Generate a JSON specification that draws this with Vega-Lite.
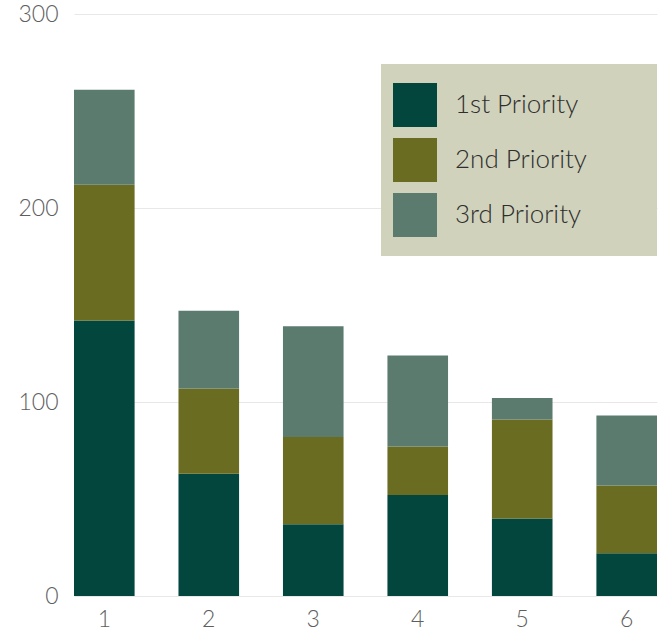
{
  "$schema": "https://vega.github.io/schema/vega-lite/v6.json",
  "width": 583,
  "height": 582,
  "autosize": {"type": "none"},
  "padding": {"left": 74, "top": 14, "right": 5, "bottom": 40},
  "background": "white",
  "config": {
    "font": "Lato",
    "view": {"stroke": null}
  },
  "data": {
    "values": [
      {"group": "1", "priority": "1st Priority", "value": 142},
      {"group": "1", "priority": "2nd Priority", "value": 70},
      {"group": "1", "priority": "3rd Priority", "value": 49},
      {"group": "2", "priority": "1st Priority", "value": 63},
      {"group": "2", "priority": "2nd Priority", "value": 44},
      {"group": "2", "priority": "3rd Priority", "value": 40},
      {"group": "3", "priority": "1st Priority", "value": 37},
      {"group": "3", "priority": "2nd Priority", "value": 45},
      {"group": "3", "priority": "3rd Priority", "value": 57},
      {"group": "4", "priority": "1st Priority", "value": 52},
      {"group": "4", "priority": "2nd Priority", "value": 25},
      {"group": "4", "priority": "3rd Priority", "value": 47},
      {"group": "5", "priority": "1st Priority", "value": 40},
      {"group": "5", "priority": "2nd Priority", "value": 51},
      {"group": "5", "priority": "3rd Priority", "value": 11},
      {"group": "6", "priority": "1st Priority", "value": 22},
      {"group": "6", "priority": "2nd Priority", "value": 35},
      {"group": "6", "priority": "3rd Priority", "value": 36}
    ]
  },
  "mark": {"type": "bar"},
  "encoding": {
    "x": {
      "field": "group",
      "type": "ordinal",
      "scale": {"paddingInner": 0.42, "paddingOuter": 0},
      "axis": {
        "title": null,
        "labelAngle": 0,
        "labelFontSize": 23,
        "labelColor": "#5e5e5e",
        "labelFontWeight": 300,
        "labelPadding": 12,
        "ticks": false,
        "domain": false
      }
    },
    "y": {
      "field": "value",
      "type": "quantitative",
      "aggregate": "sum",
      "stack": "zero",
      "scale": {"domain": [0, 300], "nice": false},
      "axis": {
        "title": null,
        "values": [0, 100, 200, 300],
        "labelFontSize": 23,
        "labelColor": "#5e5e5e",
        "labelFontWeight": 300,
        "labelPadding": 16,
        "ticks": false,
        "domain": false,
        "gridColor": "#e8e8e8",
        "gridWidth": 1
      }
    },
    "color": {
      "field": "priority",
      "type": "nominal",
      "scale": {
        "domain": ["1st Priority", "2nd Priority", "3rd Priority"],
        "range": ["#03463e", "#6a6d21", "#5b7b6f"]
      },
      "legend": {
        "title": " ",
        "titleOrient": "right",
        "titlePadding": 51,
        "titleFontSize": 10,
        "orient": "none",
        "legendX": 307,
        "legendY": 50,
        "fillColor": "#d0d2bb",
        "padding": 19,
        "symbolType": "square",
        "symbolSize": 1936,
        "symbolStrokeWidth": 0,
        "symbolOpacity": 1,
        "symbolOffset": -7,
        "rowPadding": 11,
        "labelFontSize": 26,
        "labelFontWeight": 300,
        "labelColor": "#2e2e2e",
        "labelOffset": 18,
        "labelLimit": 300
      }
    },
    "order": {"field": "priority", "sort": "ascending"}
  }
}
